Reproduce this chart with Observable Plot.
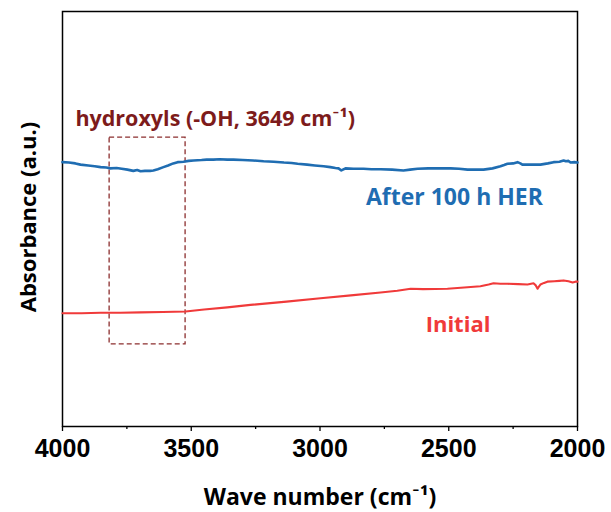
<!DOCTYPE html>
<html>
<head>
<meta charset="utf-8">
<script src="https://cdn.jsdelivr.net/npm/d3@7"></script>
<script src="https://cdn.jsdelivr.net/npm/@observablehq/plot@0.6"></script>
<style>
  html, body { margin: 0; padding: 0; background: #fff; }
  #chart { width: 611px; height: 512px; }
</style>
</head>
<body>
<div id="chart"></div>
<script>
// FTIR spectra: wavenumber (cm-1) and absorbance (a.u.)
const afterWavenumber = [4000, 3975, 3950, 3930, 3900, 3875, 3852, 3830, 3814, 3790, 3770, 3748, 3725, 3710, 3697, 3680, 3660, 3647, 3630, 3608, 3590, 3570, 3553, 3530, 3510, 3491, 3460, 3440, 3414, 3390, 3360, 3336, 3300, 3260, 3219, 3180, 3140, 3110, 3087, 3050, 3020, 2986, 2960, 2940, 2928, 2917, 2901, 2870, 2831, 2800, 2765, 2720, 2676, 2650, 2621, 2580, 2540, 2493, 2460, 2427, 2400, 2365, 2330, 2299, 2285, 2272, 2250, 2233, 2222, 2214, 2180, 2144, 2115, 2093, 2070, 2054, 2045, 2035, 2027, 2012, 2000];
const afterAbsorbance = [0.637, 0.636, 0.634, 0.631, 0.629, 0.627, 0.625, 0.624, 0.622, 0.623, 0.621, 0.619, 0.616, 0.618, 0.615, 0.616, 0.616, 0.617, 0.620, 0.625, 0.629, 0.634, 0.637, 0.638, 0.640, 0.641, 0.642, 0.643, 0.643, 0.644, 0.643, 0.643, 0.642, 0.641, 0.639, 0.638, 0.636, 0.635, 0.633, 0.631, 0.629, 0.627, 0.625, 0.623, 0.622, 0.617, 0.622, 0.621, 0.621, 0.620, 0.620, 0.619, 0.617, 0.619, 0.621, 0.622, 0.622, 0.622, 0.621, 0.619, 0.619, 0.619, 0.622, 0.627, 0.630, 0.633, 0.634, 0.637, 0.634, 0.631, 0.631, 0.631, 0.634, 0.637, 0.638, 0.641, 0.639, 0.640, 0.636, 0.637, 0.636];

const initialWavenumber = [4000, 3926, 3852, 3775, 3697, 3610, 3522, 3450, 3360, 3270, 3130, 2998, 2880, 2765, 2700, 2648, 2600, 2505, 2440, 2377, 2345, 2326, 2300, 2272, 2230, 2194, 2171, 2162, 2155, 2150, 2144, 2130, 2117, 2090, 2070, 2054, 2035, 2019, 2008, 2000];
const initialAbsorbance = [0.273, 0.273, 0.274, 0.274, 0.275, 0.276, 0.277, 0.282, 0.287, 0.293, 0.301, 0.309, 0.316, 0.323, 0.327, 0.332, 0.331, 0.332, 0.335, 0.338, 0.342, 0.345, 0.344, 0.344, 0.343, 0.342, 0.345, 0.340, 0.332, 0.337, 0.342, 0.346, 0.349, 0.350, 0.351, 0.352, 0.350, 0.347, 0.349, 0.349];

// Highlighted hydroxyl band region
const ohBandWavenumber = [3817, 3522];
const ohBandAbsorbance = [0.198, 0.696];

const xTicks = [4000, 3500, 3000, 2500, 2000];
const xMinorTicks = [3750, 3250, 2750, 2250];

const after = afterWavenumber.map((w, i) => ({w, a: afterAbsorbance[i]}));
const initial = initialWavenumber.map((w, i) => ({w, a: initialAbsorbance[i]}));

const textFont = "'Open Sans', Lato, sans-serif";
const blue = "#1f6db2";
const red = "#f03a3a";
const darkRed = "#7d1b1b";

const chart = Plot.plot({
  width: 611,
  height: 512,
  marginLeft: 62,
  marginRight: 34,
  marginTop: 11,
  marginBottom: 86,
  style: {fontFamily: textFont, background: "#fff"},
  x: {domain: [4000, 2000], label: null},
  y: {domain: [0, 1], axis: null},
  marks: [
    Plot.frame({stroke: "#000", strokeWidth: 1.5}),
    Plot.axisX({
      ticks: xTicks, tickSize: 5, tickPadding: 8, tickFormat: d3.format("d"),
      fontSize: 25, fontWeight: "bold", fontFamily: "'Liberation Sans', Arial, sans-serif",
      stroke: "#000", strokeWidth: 1.3, label: null
    }),
    Plot.axisX({ticks: xMinorTicks, tickSize: 3, text: null, strokeWidth: 1.3, label: null}),
    Plot.rect([0], {
      x1: () => ohBandWavenumber[0], x2: () => ohBandWavenumber[1],
      y1: () => ohBandAbsorbance[0], y2: () => ohBandAbsorbance[1],
      fill: "none", stroke: "#8c2e2e", strokeWidth: 1.3, strokeDasharray: "5,3"
    }),
    Plot.line(after, {x: "w", y: "a", stroke: blue, strokeWidth: 2.6}),
    Plot.line(initial, {x: "w", y: "a", stroke: red, strokeWidth: 2.1}),
    Plot.text(["hydroxyls (-OH, 3649 cm⁻¹)"], {
      x: 3950, y: 0.741, text: d => d, textAnchor: "start",
      fill: darkRed, fontSize: 21.5, fontWeight: "bold"
    }),
    Plot.text(["After 100 h HER"], {
      x: 2478, y: 0.551, text: d => d, fill: blue, fontSize: 23, fontWeight: "bold"
    }),
    Plot.text(["Initial"], {
      x: 2464, y: 0.244, text: d => d, fill: red, fontSize: 22, fontWeight: "bold"
    }),
    Plot.text(["Wave number (cm⁻¹)"], {
      frameAnchor: "bottom", lineAnchor: "middle", textAnchor: "middle", dy: 71.6,
      text: d => d, fill: "#000", fontSize: 23, fontWeight: "bold"
    }),
    Plot.text(["Absorbance (a.u.)"], {
      frameAnchor: "left", lineAnchor: "middle", textAnchor: "middle", dx: -34, dy: -2, rotate: -90,
      text: d => d, fill: "#000", fontSize: 22, fontWeight: "bold"
    })
  ]
});

document.getElementById("chart").appendChild(chart);
</script>
</body>
</html>
